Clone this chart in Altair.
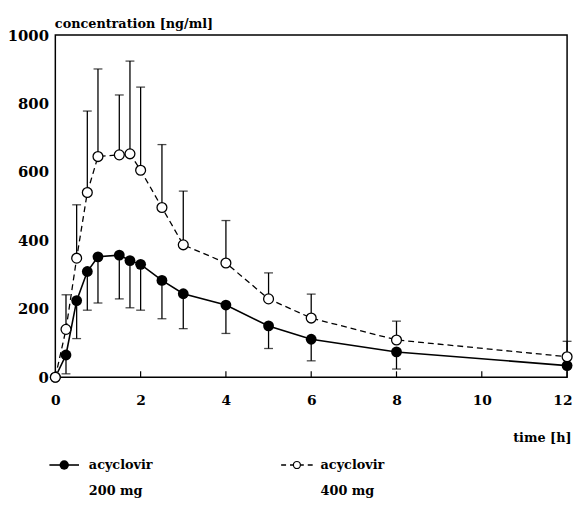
import altair as alt
import pandas as pd

# time points [h]
t = [0, 0.25, 0.5, 0.75, 1, 1.5, 1.75, 2, 2.5, 3, 4, 5, 6, 8, 12]
# 200 mg (filled) mean and lower SD bound
c200 = [0, 65, 224, 309, 352, 357, 341, 330, 283, 244, 211, 150, 111, 74, 34]
lo200 = [0, 10, 113, 196, 217, 229, 203, 196, 171, 142, 128, 84, 48, 24, 34]
# 400 mg (open) mean and upper SD bound
c400 = [0, 140, 348, 540, 645, 650, 653, 605, 496, 387, 334, 229, 173, 109, 60]
hi400 = [0, 241, 504, 778, 901, 825, 924, 848, 680, 544, 458, 305, 243, 164, 105]

x_ticks = [0, 2, 4, 6, 8, 10, 12]
y_ticks = [0, 200, 400, 600, 800, 1000]

FONT = "DejaVu Serif"
W, H = 519, 347

d200 = pd.DataFrame({"t": t, "c": c200, "lo": lo200})
d400 = pd.DataFrame({"t": t, "c": c400, "hi": hi400})
dticks = pd.DataFrame({"t": x_ticks})

xs = alt.Scale(domain=[0, 12], nice=False)
ys = alt.Scale(domain=[0, 1000], nice=False)

X = alt.X("t:Q", scale=xs, axis=alt.Axis(
    values=x_ticks, title="time [h]", ticks=False, domain=False, grid=False, format="d",
    labelFont=FONT, labelFontWeight="bold", labelFontSize=14, labelPadding=17,
    labelColor="black", labelFlush=False,
    labelAlign=alt.ExprRef(expr="datum.value == 12 ? 'right' : 'center'"),
    labelOffset=alt.ExprRef(expr="datum.value == 12 ? 5 : 0"),
    titleFont=FONT, titleFontWeight="bold", titleFontSize=13, titleColor="black",
    titleAlign="right", titleAnchor="end", titleX=W + 4, titleY=55))
Y = alt.Y("c:Q", scale=ys, axis=alt.Axis(
    values=y_ticks, title="concentration [ng/ml]", ticks=False, domain=False, grid=False,
    format="d",
    labelFont=FONT, labelFontWeight="bold", labelFontSize=15, labelPadding=7,
    labelColor="black",
    titleFont=FONT, titleFontWeight="bold", titleFontSize=13, titleColor="black",
    titleAngle=0, titleAlign="left", titleBaseline="bottom", titleX=-1, titleY=-5))

base200 = alt.Chart(d200)
base400 = alt.Chart(d400)

err200 = base200.mark_rule(color="black", strokeWidth=1.3).encode(
    x=alt.X("t:Q", scale=xs), y=alt.Y("c:Q", scale=ys), y2="lo:Q")
cap200 = base200.mark_tick(color="black", orient="horizontal", size=9, thickness=1.3).encode(
    x=alt.X("t:Q", scale=xs), y=alt.Y("lo:Q", scale=ys))
err400 = base400.mark_rule(color="black", strokeWidth=1.3).encode(
    x=alt.X("t:Q", scale=xs), y=alt.Y("c:Q", scale=ys), y2="hi:Q")
cap400 = base400.mark_tick(color="black", orient="horizontal", size=9, thickness=1.3).encode(
    x=alt.X("t:Q", scale=xs), y=alt.Y("hi:Q", scale=ys))

line200 = base200.mark_line(color="black", strokeWidth=1.6).encode(x=X, y=Y)
line400 = base400.mark_line(color="black", strokeWidth=1.3, strokeDash=[6, 4]).encode(
    x=alt.X("t:Q", scale=xs), y=alt.Y("c:Q", scale=ys))
pts200 = base200.mark_point(filled=True, color="black", size=120, opacity=1).encode(
    x=alt.X("t:Q", scale=xs), y=alt.Y("c:Q", scale=ys))
pts400 = base400.mark_point(fill="white", stroke="black", strokeWidth=1.3, size=100, opacity=1,
                            fillOpacity=1).encode(
    x=alt.X("t:Q", scale=xs), y=alt.Y("c:Q", scale=ys))

ticks = alt.Chart(dticks).mark_rule(color="black", strokeWidth=1.2).encode(
    x=alt.X("t:Q", scale=xs), y=alt.value(H), y2=alt.value(H - 6))

# legend
LY = 436
leg_rows = pd.DataFrame({"k": [0]})
lg = alt.Chart(leg_rows)
leg_line1 = lg.mark_rule(color="black", strokeWidth=1.6).encode(
    x=alt.value(-6), x2=alt.value(24), y=alt.value(LY))
leg_pt1 = lg.mark_point(filled=True, color="black", size=90, opacity=1).encode(
    x=alt.value(9), y=alt.value(LY))
leg_line2 = lg.mark_rule(color="black", strokeWidth=1.3, strokeDash=[5, 4]).encode(
    x=alt.value(229), x2=alt.value(262), y=alt.value(LY))
leg_pt2 = lg.mark_point(fill="white", stroke="black", strokeWidth=1.2, size=50, opacity=1).encode(
    x=alt.value(245), y=alt.value(LY))
txt = dict(font=FONT, fontWeight="bold", fontSize=13, color="black", align="left", baseline="middle")
leg_t1 = lg.mark_text(text="acyclovir", **txt).encode(x=alt.value(34), y=alt.value(LY))
leg_t2 = lg.mark_text(text="200  mg", **txt).encode(x=alt.value(34), y=alt.value(LY + 26))
leg_t3 = lg.mark_text(text="acyclovir", **txt).encode(x=alt.value(269), y=alt.value(LY))
leg_t4 = lg.mark_text(text="400  mg", **txt).encode(x=alt.value(269), y=alt.value(LY + 26))

chart = alt.layer(
    line200, ticks, err200, cap200, err400, cap400, line400, pts200, pts400,
    leg_line1, leg_pt1, leg_line2, leg_pt2, leg_t1, leg_t2, leg_t3, leg_t4
).properties(
    width=W, height=H,
    autosize=alt.AutoSizeParams(type="none"),
    padding={"left": 48, "top": 24, "right": 6, "bottom": 120},
    background="white",
).configure_view(stroke="black", strokeWidth=1.5)

chart.save("out.html", embed_options={"renderer": "svg", "actions": False})
